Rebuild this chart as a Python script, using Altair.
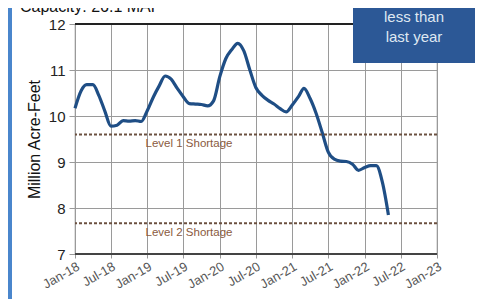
import altair as alt
import pandas as pd

# ---- data ----
start_month = "2018-01-01"
storage_maf = [10.17, 10.55, 10.68, 10.68, 10.45, 10.10, 9.78, 9.80, 9.90, 9.89, 9.90, 9.88,
               10.12, 10.42, 10.65, 10.87, 10.80, 10.60, 10.42, 10.27, 10.26, 10.25, 10.22, 10.33,
               10.85, 11.25, 11.44, 11.58, 11.42, 11.00, 10.62, 10.45, 10.34, 10.26, 10.16, 10.09,
               10.24, 10.42, 10.60, 10.38, 10.06, 9.64, 9.22, 9.06, 9.02, 9.01, 8.95, 8.82,
               8.88, 8.92, 8.92, 8.55, 7.85]
level_names = ["Level 1 Shortage", "Level 2 Shortage"]
level_values = [9.6, 7.67]
tick_dates = ["2018-01-01", "2018-07-01", "2019-01-01", "2019-07-01", "2020-01-01", "2020-07-01",
              "2021-01-01", "2021-07-01", "2022-01-01", "2022-07-01", "2023-01-01"]
title_text = "Capacity: 26.1 MAF"
box_lines = ["less than", "last year"]

dates = pd.date_range(start_month, periods=len(storage_maf), freq="MS")
df = pd.DataFrame({"date": dates.strftime("%Y-%m-%d"), "maf": storage_maf})
levels = pd.DataFrame({"name": level_names, "level": level_values})
tick_ms = [int(pd.Timestamp(d, tz="UTC").timestamp() * 1000) for d in tick_dates]

FONT = "Liberation Sans"
xscale = alt.Scale(type="utc", domain=[tick_ms[0], tick_ms[-1]])
yscale = alt.Scale(domain=[7, 12], nice=False, zero=False)

one = alt.Data(values=[{}])

left_strip = alt.Chart(one).mark_rect(color="#4a86cc").encode(
    x=alt.value(-70), x2=alt.value(-63), y=alt.value(-30), y2=alt.value(300))

line = alt.Chart(df).mark_line(color="#1f4e85", strokeWidth=3.2, interpolate="monotone").encode(
    x=alt.X("date:T", scale=xscale,
            axis=alt.Axis(values=tick_ms, labelExpr="utcFormat(datum.value, '%b-%y')", title=None,
                          labelAngle=-30, labelAlign="right", labelBaseline="top",
                          labelFontSize=13, labelColor="#555", labelFont=FONT, labelPadding=2,
                          grid=True, gridColor="#9a9a9a", gridWidth=1,
                          domain=False, tickColor="#999", tickSize=4, labelFlush=False,
                          labelOverlap=False)),
    y=alt.Y("maf:Q", scale=yscale,
            axis=alt.Axis(values=[7, 8, 9, 10, 11, 12], title="Million Acre-Feet",
                          titleFontSize=16, titleFontWeight="normal", titleColor="#111",
                          titleFont=FONT, titlePadding=6,
                          labelFontSize=15, labelColor="#222", labelFont=FONT, labelPadding=4,
                          grid=True, gridColor="#9a9a9a", gridWidth=1,
                          domain=False, tickColor="#999", tickSize=6)),
)

frame_top = alt.Chart(alt.Data(values=[{"v": 12}])).mark_rule(color="#222", strokeWidth=2).encode(
    y=alt.Y("v:Q", scale=yscale))
frame_bottom = alt.Chart(alt.Data(values=[{"v": 7}])).mark_rule(color="#444", strokeWidth=1.8).encode(
    y=alt.Y("v:Q", scale=yscale))

level_rules = alt.Chart(levels).mark_rule(color="#6b5040", strokeWidth=2, strokeDash=[3, 2]).encode(
    y=alt.Y("level:Q", scale=yscale))
level_text = alt.Chart(levels).mark_text(color="#8a5a40", fontSize=11.5, font=FONT, dy=10,
                                         align="center").encode(
    x=alt.value(114), y=alt.Y("level:Q", scale=yscale), text="name:N")

box = alt.Chart(one).mark_rect(color="#2c5896").encode(
    x=alt.value(278), x2=alt.value(400), y=alt.value(-30), y2=alt.value(39))
box_text = alt.Chart(pd.DataFrame({"t": box_lines, "yy": [-7, 13]})).mark_text(
    color="#dfe8f2", fontSize=15, font=FONT, align="center", baseline="middle").encode(
    x=alt.value(339), y=alt.Y("yy:Q", scale=None), text="t:N")

title = alt.Chart(pd.DataFrame({"t": [title_text]})).mark_text(
    color="#111", fontSize=16, font=FONT, align="left", baseline="alphabetic").encode(
    x=alt.value(-55), y=alt.value(-12), text="t:N")

chart = alt.layer(left_strip, line, level_rules, level_text, frame_top, frame_bottom,
                  box, box_text, title).properties(
    width=362, height=230,
    padding={"left": 67, "top": 16, "right": 38, "bottom": 45},
    autosize=alt.AutoSizeParams(type="none"),
    background="white",
).configure_view(stroke="#999", strokeWidth=1.2)

chart.save("out.html", embed_options={"renderer": "svg", "actions": False})
